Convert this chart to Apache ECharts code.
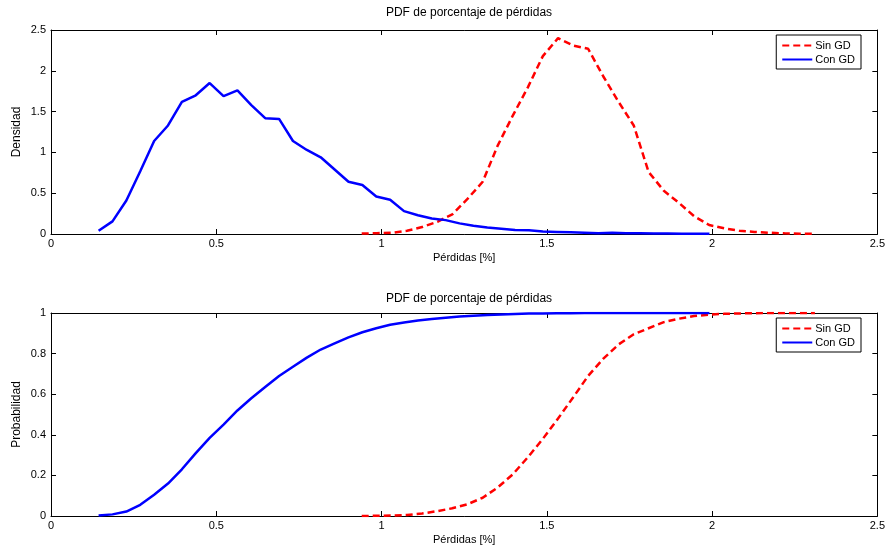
<!DOCTYPE html>
<html>
<head>
<meta charset="utf-8">
<script src="https://cdn.jsdelivr.net/npm/echarts@6/dist/echarts.min.js"></script>
<style>
  html, body { margin: 0; padding: 0; background: #ffffff; }
  #chart { width: 888px; height: 548px; }
</style>
</head>
<body>
<div id="chart"></div>
<script>
// Bin centres and estimated density / cumulative probability, "Con GD"
const conX = [0.144, 0.186, 0.228, 0.270, 0.312, 0.354, 0.396, 0.438, 0.480, 0.522,
              0.564, 0.606, 0.648, 0.690, 0.732, 0.774, 0.816, 0.858, 0.900, 0.942,
              0.984, 1.026, 1.068, 1.110, 1.152, 1.194, 1.236, 1.278, 1.320, 1.362,
              1.404, 1.446, 1.488, 1.530, 1.572, 1.614, 1.656, 1.698, 1.740, 1.782,
              1.824, 1.866, 1.908, 1.950, 1.992];
const conPdf = [0.04, 0.155, 0.41, 0.77, 1.14, 1.33, 1.62, 1.70, 1.85, 1.69,
                1.76, 1.58, 1.42, 1.41, 1.14, 1.03, 0.94, 0.79, 0.64, 0.60,
                0.46, 0.42, 0.28, 0.23, 0.19, 0.17, 0.13, 0.10, 0.08, 0.065,
                0.05, 0.045, 0.03, 0.025, 0.02, 0.015, 0.01, 0.015, 0.01, 0.008,
                0.005, 0.005, 0.003, 0.003, 0.002];
const conCdf = [0.002, 0.008, 0.022, 0.055, 0.105, 0.16, 0.23, 0.31, 0.385, 0.45,
                0.52, 0.58, 0.635, 0.69, 0.735, 0.78, 0.82, 0.85, 0.88, 0.905,
                0.925, 0.942, 0.953, 0.963, 0.970, 0.977, 0.983, 0.987, 0.990, 0.993,
                0.995, 0.997, 0.998, 0.999, 0.999, 1.0, 1.0, 1.0, 1.0, 1.0,
                1.0, 1.0, 1.0, 1.0, 1.0];

// Bin centres and estimated density / cumulative probability, "Sin GD"
const sinX = [0.940, 0.986, 1.031, 1.077, 1.123, 1.169, 1.214, 1.260, 1.306, 1.351,
              1.397, 1.443, 1.488, 1.534, 1.580, 1.625, 1.671, 1.717, 1.763, 1.808,
              1.854, 1.900, 1.945, 1.991, 2.037, 2.082, 2.128, 2.174, 2.219, 2.265,
              2.311];
const sinPdf = [0.005, 0.01, 0.015, 0.04, 0.085, 0.15, 0.24, 0.43, 0.64, 1.08,
                1.45, 1.80, 2.18, 2.40, 2.31, 2.27, 1.93, 1.62, 1.33, 0.76,
                0.53, 0.38, 0.22, 0.11, 0.07, 0.04, 0.025, 0.015, 0.008, 0.004,
                0.003];
const sinCdf = [0.0, 0.001, 0.002, 0.005, 0.012, 0.024, 0.038, 0.058, 0.09, 0.14,
                0.205, 0.29, 0.38, 0.48, 0.585, 0.69, 0.775, 0.845, 0.895, 0.925,
                0.955, 0.972, 0.985, 0.992, 0.996, 0.998, 0.999, 1.0, 1.0, 1.0,
                1.0];

const titleText = 'PDF de porcentaje de pérdidas';
const xName = 'Pérdidas [%]';
const yNames = ['Densidad', 'Probabilidad'];
const seriesNames = ['Sin GD', 'Con GD'];

const FONT = '"Liberation Sans", Arial, Helvetica, sans-serif';
const pairs = (xs, ys) => xs.map((x, i) => [x, ys[i]]);

const boxLine = { show: true, onZero: false, lineStyle: { color: '#000', width: 1 } };
const tick = { show: true, inside: true, length: 5, lineStyle: { color: '#000', width: 1 } };
const label = { color: '#000', fontFamily: FONT, fontSize: 11, margin: 4 };

function xAxes(g) {
  return [
    { gridIndex: g, type: 'value', min: 0, max: 2.5, interval: 0.5, position: 'bottom',
      axisLine: boxLine, axisTick: tick, axisLabel: label, splitLine: { show: false },
      name: xName, nameLocation: 'middle', nameGap: 18, nameMoveOverlap: false,
      nameTextStyle: { color: '#000', fontFamily: FONT, fontSize: 11 } },
    { gridIndex: g, type: 'value', min: 0, max: 2.5, interval: 0.5, position: 'top',
      axisLine: boxLine, axisTick: tick, axisLabel: { show: false }, splitLine: { show: false } }
  ];
}
function yAxes(g, max, interval, name) {
  return [
    { gridIndex: g, type: 'value', min: 0, max: max, interval: interval, position: 'left',
      axisLine: boxLine, axisTick: tick, axisLabel: Object.assign({}, label, { margin: 5 }),
      splitLine: { show: false },
      name: name, nameLocation: 'middle', nameGap: 28, nameMoveOverlap: false,
      nameTextStyle: { color: '#000', fontFamily: FONT, fontSize: 12 } },
    { gridIndex: g, type: 'value', min: 0, max: max, interval: interval, position: 'right',
      axisLine: boxLine, axisTick: tick, axisLabel: { show: false }, splitLine: { show: false } }
  ];
}

const sinStyle = { color: '#ff0000', width: 2.5, type: [7, 4] };
const conStyle = { color: '#0000ff', width: 2.5, type: 'solid' };

function lineSeries(name, xi, yi, data, style) {
  return {
    name: name, type: 'line', xAxisIndex: xi, yAxisIndex: yi,
    data: data, showSymbol: false, symbol: 'none', smooth: false,
    lineStyle: style, itemStyle: { color: style.color }, animation: false, z: 3
  };
}

// Legend shows only the line sample of each series (no marker)
function legendAt(top) {
  return {
    data: seriesNames, orient: 'vertical', right: 27, top: top,
    borderColor: '#000', borderWidth: 1, borderRadius: 0,
    padding: [5, 6, 4, 5], itemGap: 3, itemWidth: 30, itemHeight: 12,
    backgroundColor: '#fff',
    itemStyle: { color: 'transparent', borderWidth: 0, opacity: 0 },
    textStyle: { color: '#000', fontFamily: FONT, fontSize: 11, padding: [0, 0, 0, -2] }
  };
}

const chart = echarts.init(document.getElementById('chart'), null, { renderer: 'canvas' });
chart.setOption({
  backgroundColor: '#ffffff',
  animation: false,
  title: [
    { text: titleText, left: 464, textAlign: 'center', top: 2,
      textStyle: { color: '#000', fontFamily: FONT, fontSize: 12, fontWeight: 'normal' } },
    { text: titleText, left: 464, textAlign: 'center', top: 288,
      textStyle: { color: '#000', fontFamily: FONT, fontSize: 12, fontWeight: 'normal' } }
  ],
  legend: [legendAt(35), legendAt(318)],
  grid: [
    { left: 51, right: 10, top: 30, height: 204 },
    { left: 51, right: 10, top: 313, height: 203 }
  ],
  xAxis: [].concat(xAxes(0), xAxes(1)),
  yAxis: [].concat(yAxes(0, 2.5, 0.5, yNames[0]), yAxes(1, 1, 0.2, yNames[1])),
  series: [
    lineSeries(seriesNames[0], 0, 0, pairs(sinX, sinPdf), sinStyle),
    lineSeries(seriesNames[1], 0, 0, pairs(conX, conPdf), conStyle),
    lineSeries(seriesNames[0], 2, 2, pairs(sinX, sinCdf), sinStyle),
    lineSeries(seriesNames[1], 2, 2, pairs(conX, conCdf), conStyle)
  ]
});
</script>
</body>
</html>
